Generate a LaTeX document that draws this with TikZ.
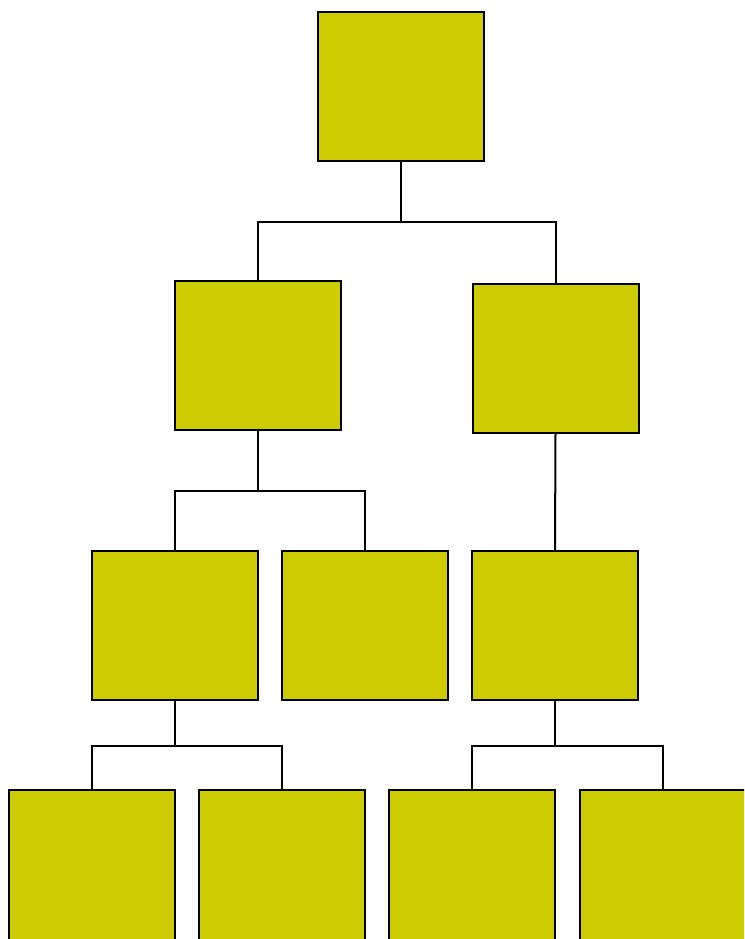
\documentclass[tikz,border=0pt]{standalone}
\usepackage{tikz}
\usetikzlibrary{positioning, calc}
\definecolor{boxyellow}{HTML}{CCCC00}
\tikzstyle{orgbox} = [draw=black, rectangle, minimum width=124.5pt, minimum height=111.75pt, line width=1.5pt, fill=boxyellow, inner sep=0pt]
\tikzstyle{link} = [line width=1.5pt, color=black]

\begin{document}
\begin{tikzpicture}[x=0.75pt, y=-0.75pt]
    \useasboundingbox (0,0) rectangle (744,939);
    \clip (0,0) rectangle (744,939);
    \node (root) [orgbox] at (401,86.5) {};
    \node (la) [orgbox] at (258,355.5) {};
    \node (lb) [orgbox] at (555.5,358.5) {};
    \node (ma) [orgbox] at (175,625.5) {};
    \node (mb) [orgbox] at (365,625.5) {};
    \node (mc) [orgbox] at (555,625.5) {};
    % bottom row runs off the page
    \node (ba) [orgbox, minimum height=135pt] at (92,880) {};
    \node (bb) [orgbox, minimum height=135pt] at (282,880) {};
    \node (bc) [orgbox, minimum height=135pt] at (472,880) {};
    \node (bd) [orgbox, minimum height=135pt] at (663,880) {};

    \draw [link] (root.south) -- ++(0,60) -| (la.north);
    \draw [link] (root.south) -- ++(0,60) -| (lb.north);
    \draw [link] (la.south) -- ++(0,60) -| (ma.north);
    \draw [link] (la.south) -- ++(0,60) -| (mb.north);
    \draw [link] (lb.south) -- (mc.north);
    \draw [link] (ma.south) -- ++(0,45) -| (ba.north);
    \draw [link] (ma.south) -- ++(0,45) -| (bb.north);
    \draw [link] (mc.south) -- ++(0,45) -| (bc.north);
    \draw [link] (mc.south) -- ++(0,45) -| (bd.north);
\end{tikzpicture}
\end{document}
